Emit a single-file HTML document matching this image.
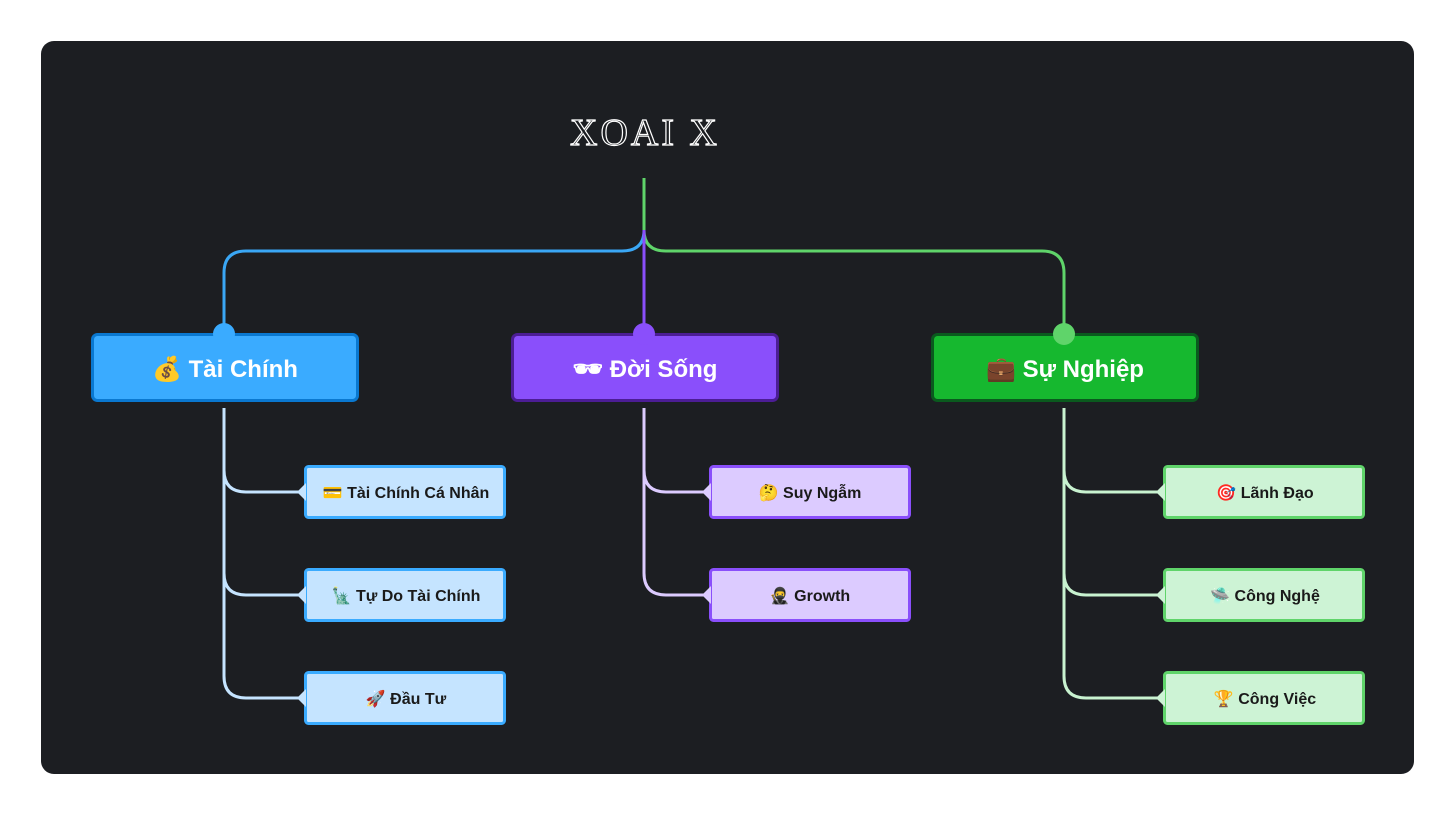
<!DOCTYPE html>
<html><head><meta charset="utf-8"><style>
html,body{margin:0;padding:0;background:#fff;width:1456px;height:816px;overflow:hidden}
svg{display:block}
text{font-family:"Liberation Sans","DejaVu Sans",sans-serif;font-weight:bold}
</style></head><body>
<svg width="1456" height="816" viewBox="0 0 1456 816">
<rect x="41" y="41" width="1373" height="733" rx="13" fill="#1c1e22"/>
<text x="645" y="145" text-anchor="middle" font-size="38" fill="none" stroke="#fff" stroke-width="1.2" letter-spacing="3" style="font-family:'Liberation Serif',serif;font-weight:normal">XOAI X</text>
<path d="M644 230 Q644 251 622 251 L246 251 Q224 251 224 273 L224 333" fill="none" stroke="#3aa7f5" stroke-width="3"/>
<path d="M644 178 L644 230 Q644 251 666 251 L1042 251 Q1064 251 1064 273 L1064 333" fill="none" stroke="#5fd46a" stroke-width="3"/>
<path d="M644 230 L644 333" fill="none" stroke="#8a4ffb" stroke-width="3"/>
<g fill="none" stroke-width="3">
<path d="M224 408 L224 676 Q224 698 246 698 L304 698 M224 470 Q224 492 246 492 L304 492 M224 573 Q224 595 246 595 L304 595" stroke="#c5e4ff"/>
<path d="M644 408 L644 573 Q644 595 666 595 L709 595 M644 470 Q644 492 666 492 L709 492" stroke="#dccbff"/>
<path d="M1064 408 L1064 676 Q1064 698 1086 698 L1163 698 M1064 470 Q1064 492 1086 492 L1163 492 M1064 573 Q1064 595 1086 595 L1163 595" stroke="#c8f2d0"/>
</g>
<rect x="92.5" y="334.5" width="265" height="66" rx="5" fill="#3aabff" stroke="#0a78d0" stroke-width="3"/>
<circle cx="224" cy="334" r="11" fill="#3aabff"/>
<text x="225" y="377" text-anchor="middle" font-size="24" fill="#fff">💰 Tài Chính</text>
<rect x="512.5" y="334.5" width="265" height="66" rx="5" fill="#8a4ffb" stroke="#4c1d95" stroke-width="3"/>
<circle cx="644" cy="334" r="11" fill="#8a4ffb"/>
<text x="645" y="377" text-anchor="middle" font-size="24" fill="#fff">🕶 Đời Sống</text>
<rect x="932.5" y="334.5" width="265" height="66" rx="5" fill="#16b82f" stroke="#0a5a1e" stroke-width="3"/>
<circle cx="1064" cy="334" r="11" fill="#5fd46a"/>
<text x="1065" y="377" text-anchor="middle" font-size="24" fill="#fff">💼 Sự Nghiệp</text>
<g font-size="16" fill="#1a1a1a" text-anchor="middle">
<g fill="#c5e4ff" stroke="#3aabff" stroke-width="3">
<rect x="305.5" y="466.5" width="199" height="51" rx="3"/>
<rect x="305.5" y="569.5" width="199" height="51" rx="3"/>
<rect x="305.5" y="672.5" width="199" height="51" rx="3"/>
</g>
<g fill="#dccbff" stroke="#8a4ffb" stroke-width="3">
<rect x="710.5" y="466.5" width="199" height="51" rx="3"/>
<rect x="710.5" y="569.5" width="199" height="51" rx="3"/>
</g>
<g fill="#cdf3d5" stroke="#5fd46a" stroke-width="3">
<rect x="1164.5" y="466.5" width="199" height="51" rx="3"/>
<rect x="1164.5" y="569.5" width="199" height="51" rx="3"/>
<rect x="1164.5" y="672.5" width="199" height="51" rx="3"/>
</g>
<g stroke="none">
<path d="M297 492 L306 483 L306 501Z M297 595 L306 586 L306 604Z M297 698 L306 689 L306 707Z" fill="#c5e4ff"/>
<path d="M702 492 L711 483 L711 501Z M702 595 L711 586 L711 604Z" fill="#dccbff"/>
<path d="M1156 492 L1165 483 L1165 501Z M1156 595 L1165 586 L1165 604Z M1156 698 L1165 689 L1165 707Z" fill="#cdf3d5"/>
</g>
<text x="406" y="498">💳 Tài Chính Cá Nhân</text>
<text x="406" y="601">🗽 Tự Do Tài Chính</text>
<text x="406" y="704">🚀 Đầu Tư</text>
<text x="810" y="498">🤔 Suy Ngẫm</text>
<text x="810" y="601">🥷 Growth</text>
<text x="1265" y="498">🎯 Lãnh Đạo</text>
<text x="1265" y="601">🛸 Công Nghệ</text>
<text x="1265" y="704">🏆 Công Việc</text>
</g>
</svg>
</body></html>
